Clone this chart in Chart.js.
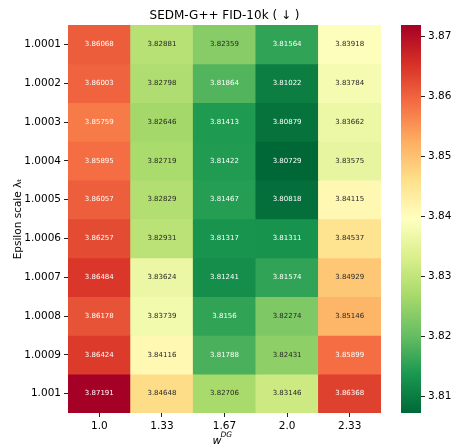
<!DOCTYPE html>
<html>
<head>
<meta charset="utf-8">
<script src="https://cdn.jsdelivr.net/npm/chart.js@4.4.1/dist/chart.umd.min.js"></script>
<style>
  body { margin: 0; background: #fff; }
  #wrap { position: relative; width: 451px; height: 444px; overflow: hidden; }
  canvas { position: absolute; left: 0; top: 0; }
</style>
</head>
<body>
<div id="wrap">
  <canvas id="heat" width="451" height="444"></canvas>
  <canvas id="cbar" width="451" height="444"></canvas>
</div>
<script>
'use strict';

// x categories (w^DG_t,1st) and y categories (epsilon scale)
var wLabels = ['1.0', '1.33', '1.67', '2.0', '2.33'];
var epsLabels = ['1.0001', '1.0002', '1.0003', '1.0004', '1.0005', '1.0006', '1.0007', '1.0008', '1.0009', '1.001'];

// FID-10k per column, top row to bottom row
var fidW1_00 = [3.86068, 3.86003, 3.85759, 3.85895, 3.86057, 3.86257, 3.86484, 3.86178, 3.86424, 3.87191];
var fidW1_33 = [3.82881, 3.82798, 3.82646, 3.82719, 3.82829, 3.82931, 3.83624, 3.83739, 3.84116, 3.84648];
var fidW1_67 = [3.82359, 3.81864, 3.81413, 3.81422, 3.81467, 3.81317, 3.81241, 3.8156, 3.81788, 3.82706];
var fidW2_00 = [3.81564, 3.81022, 3.80879, 3.80729, 3.80818, 3.81311, 3.81574, 3.82274, 3.82431, 3.83146];
var fidW2_33 = [3.83918, 3.83784, 3.83662, 3.83575, 3.84115, 3.84537, 3.84929, 3.85146, 3.85899, 3.86368];

var cbTicks = [3.81, 3.82, 3.83, 3.84, 3.85, 3.86, 3.87];

var columns = [fidW1_00, fidW1_33, fidW1_67, fidW2_00, fidW2_33];
var allVals = [].concat.apply([], columns);
var vmin = Math.min.apply(null, allVals);
var vmax = Math.max.apply(null, allVals);

// RdYlGn, reversed below (low = green)
var rdylgn = ['#a50026', '#d73027', '#f46d43', '#fdae61', '#fee08b', '#ffffbf',
              '#d9ef8b', '#a6d96a', '#66bd63', '#1a9850', '#006837'];
var cmap = rdylgn.slice().reverse();

function hexRgb(h) {
    return [parseInt(h.substr(1, 2), 16), parseInt(h.substr(3, 2), 16), parseInt(h.substr(5, 2), 16)];
}
function colorRgb(v) {
    var t = (v - vmin) / (vmax - vmin);
    t = Math.max(0, Math.min(1, t));
    var p = t * (cmap.length - 1);
    var i = Math.min(Math.floor(p), cmap.length - 2);
    var f = p - i;
    var a = hexRgb(cmap[i]), b = hexRgb(cmap[i + 1]);
    return [0, 1, 2].map(function (k) { return Math.round(a[k] + (b[k] - a[k]) * f); });
}
function colorOf(v) {
    var c = colorRgb(v);
    return 'rgb(' + c.join(',') + ')';
}
// seaborn style annotation colour
function textColorOf(v) {
    var c = colorRgb(v).map(function (x) {
        x = x / 255;
        return x <= 0.03928 ? x / 12.92 : Math.pow((x + 0.055) / 1.055, 2.4);
    });
    var lum = 0.2126 * c[0] + 0.7152 * c[1] + 0.0722 * c[2];
    return lum > 0.408 ? '#262626' : '#ffffff';
}

var FONT = "'DejaVu Sans', sans-serif";

// one dataset per row, floating bars [r, r+1]
var datasets = epsLabels.map(function (lab, r) {
    var vals = columns.map(function (col) { return col[r]; });
    return {
        label: lab,
        fidValues: vals,
        data: vals.map(function () { return [r, r + 1]; }),
        backgroundColor: vals.map(colorOf),
        borderWidth: 0,
        borderSkipped: false,
        grouped: false,
        barPercentage: 1.0,
        categoryPercentage: 1.0
    };
});

var annotate = {
    id: 'annotate',
    afterDatasetsDraw: function (chart) {
        var ctx = chart.ctx;
        ctx.save();
        ctx.font = '7px ' + FONT;
        ctx.textAlign = 'center';
        ctx.textBaseline = 'middle';
        chart.data.datasets.forEach(function (ds, di) {
            chart.getDatasetMeta(di).data.forEach(function (bar, ci) {
                var v = ds.fidValues[ci];
                ctx.fillStyle = textColorOf(v);
                ctx.fillText(String(v), bar.x, (bar.y + bar.base) / 2);
            });
        });
        ctx.restore();
    },
    afterDraw: function (chart) {
        var ctx = chart.ctx;
        var area = chart.chartArea;
        var cx = (area.left + area.right) / 2;
        ctx.save();
        ctx.fillStyle = '#000';
        // title
        ctx.font = '12px ' + FONT;
        ctx.textAlign = 'center';
        ctx.textBaseline = 'alphabetic';
        ctx.fillText('SEDM-G++ FID-10k ( \u2193 )', cx, 19);
        // y axis label
        ctx.save();
        ctx.translate(18, (area.top + area.bottom) / 2);
        ctx.rotate(-Math.PI / 2);
        ctx.font = '10.5px ' + FONT;
        ctx.textAlign = 'center';
        ctx.textBaseline = 'middle';
        ctx.fillText('Epsilon scale \u03bb\u209c', 0, 0);
        ctx.restore();
        // x axis label w^DG_{t,1st}
        ctx.textAlign = 'left';
        ctx.font = 'italic 11px ' + FONT;
        ctx.fillText('w', cx - 12, 444);
        ctx.font = 'italic 7.5px ' + FONT;
        ctx.fillText('DG', cx - 4, 437);
        ctx.fillText('t,1st', cx - 4, 450);
        ctx.restore();
    }
};

new Chart(document.getElementById('heat').getContext('2d'), {
    type: 'bar',
    data: { labels: wLabels, datasets: datasets },
    options: {
        responsive: false,
        animation: false,
        layout: { padding: { top: 25, right: 70, left: 0, bottom: 0 } },
        plugins: { legend: { display: false }, tooltip: { enabled: false } },
        scales: {
            x: {
                type: 'category',
                offset: true,
                border: { display: false },
                grid: { offset: false, drawOnChartArea: false, drawTicks: true, tickLength: 4, color: '#222' },
                ticks: { color: '#000', font: { family: FONT, size: 10.5 }, padding: 3, maxRotation: 0 },
                afterFit: function (s) { s.height = 31; }
            },
            y: {
                type: 'linear',
                min: 0,
                max: epsLabels.length,
                reverse: true,
                border: { display: false },
                grid: { drawOnChartArea: false, drawTicks: true, tickLength: 4, color: '#222' },
                afterBuildTicks: function (s) {
                    s.ticks = epsLabels.map(function (_, i) { return { value: i + 0.5 }; });
                },
                ticks: {
                    color: '#000',
                    font: { family: FONT, size: 10.5 },
                    padding: 3,
                    callback: function (v) { return epsLabels[Math.floor(v)]; }
                },
                afterFit: function (s) { s.width = 68; }
            }
        }
    },
    plugins: [annotate]
});

// colorbar
new Chart(document.getElementById('cbar').getContext('2d'), {
    type: 'bar',
    data: {
        labels: [''],
        datasets: [{
            data: [[vmin, vmax]],
            borderWidth: 0,
            borderSkipped: false,
            barPercentage: 1.0,
            categoryPercentage: 1.0,
            backgroundColor: function (c) {
                var area = c.chart.chartArea;
                if (!area) return null;
                var g = c.chart.ctx.createLinearGradient(0, area.bottom, 0, area.top);
                cmap.forEach(function (col, i) { g.addColorStop(i / (cmap.length - 1), col); });
                return g;
            }
        }]
    },
    options: {
        responsive: false,
        animation: false,
        layout: { padding: { top: 25, bottom: 31, left: 401, right: 0 } },
        plugins: { legend: { display: false }, tooltip: { enabled: false } },
        scales: {
            x: { display: false },
            y: {
                type: 'linear',
                position: 'right',
                min: vmin,
                max: vmax,
                border: { display: false },
                grid: { drawOnChartArea: false, drawTicks: true, tickLength: 4, color: '#222' },
                afterBuildTicks: function (s) {
                    s.ticks = cbTicks.map(function (v) { return { value: v }; });
                },
                ticks: {
                    color: '#000',
                    font: { family: FONT, size: 10.5 },
                    padding: 3,
                    callback: function (v) { return v.toFixed(2); }
                },
                afterFit: function (s) { s.width = 30; }
            }
        }
    }
});
</script>
</body>
</html>
